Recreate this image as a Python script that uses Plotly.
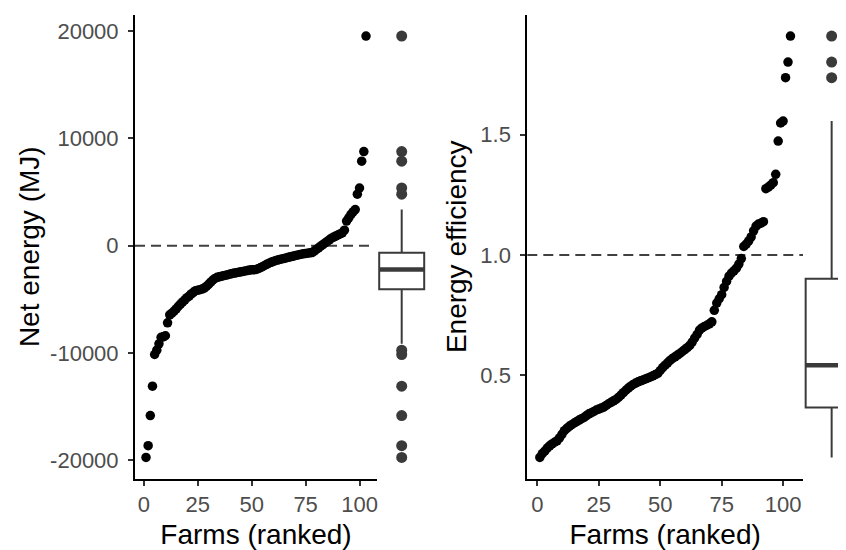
import numpy as np
import plotly.graph_objects as go

# ---------------- data ----------------
net_energy = [
    -19750, -18650, -15850, -13100, -10150, -9750, -9150, -8550, -8500, -8400,
    -7200, -6450, -6300, -6100, -5900, -5650, -5450, -5250, -5050, -4850,
    -4700, -4500, -4350, -4200, -4150, -4100, -4050, -3950, -3800, -3600,
    -3400, -3200, -3050, -2950, -2900, -2850, -2800, -2750, -2700, -2650,
    -2600, -2550, -2520, -2480, -2440, -2400, -2360, -2320, -2280, -2250,
    -2235, -2220, -2150, -2060, -1960, -1850, -1740, -1640, -1550, -1470,
    -1400, -1340, -1290, -1240, -1190, -1140, -1090, -1040, -990, -940,
    -890, -845, -800, -760, -725, -695, -670, -640, -500, -350,
    -200, -50, 100, 250, 400, 550, 700, 800, 900, 1000,
    1100, 1200, 1450, 2300, 2600, 2900, 3150, 3370, 4800, 5380,
    7880, 8780, 19550,
]

energy_eff = [
    0.159, 0.175, 0.185, 0.198, 0.207, 0.215, 0.222, 0.228, 0.240, 0.255,
    0.270, 0.280, 0.288, 0.295, 0.302, 0.308, 0.314, 0.320, 0.325, 0.333,
    0.340, 0.345, 0.350, 0.356, 0.360, 0.364, 0.368, 0.375, 0.382, 0.388,
    0.394, 0.400, 0.408, 0.418, 0.428, 0.438, 0.447, 0.455, 0.462, 0.468,
    0.473, 0.477, 0.481, 0.485, 0.489, 0.493, 0.498, 0.503, 0.508, 0.520,
    0.532, 0.542, 0.552, 0.562, 0.570, 0.577, 0.584, 0.591, 0.599, 0.607,
    0.615, 0.624, 0.638, 0.655, 0.670, 0.688, 0.697, 0.703, 0.708, 0.714,
    0.722, 0.770, 0.800, 0.818, 0.835, 0.865, 0.890, 0.912, 0.925, 0.934,
    0.945, 0.962, 0.985, 1.035, 1.045, 1.058, 1.075, 1.100, 1.120, 1.128,
    1.132, 1.138, 1.275, 1.282, 1.290, 1.300, 1.335, 1.473, 1.548, 1.556,
    1.736, 1.801, 1.909,
]

ranks = list(range(1, len(net_energy) + 1))
x_ticks = [0, 25, 50, 75, 100]
net_ticks = [-20000, -10000, 0, 10000, 20000]
eff_ticks = [0.5, 1.0, 1.5]
net_tick_text = ["-20000", "-10000", "0", "10000", "20000"]
eff_tick_text = ["0.5", "1.0", "1.5"]
ref_net = 0
ref_eff = 1.0
x_title = "Farms (ranked)"
net_title = "Net energy (MJ)"
eff_title = "Energy efficiency"

# ---------------- styling ----------------
OFF = 8                      # default page body margin
W, H = 846 - OFF, 550 - OFF  # figure size so it ends at the window edge
FONT = "Liberation Sans, Arial, Helvetica, sans-serif"
TICK_COL = "#4D4D4D"
BOX_COL = "#3a3a3a"
DASH_COL = "#404040"
TICK_SIZE = 22
TITLE_SIZE = 28
DOT = 9.5


def fx(a, b):
    return [max(0, (a - OFF) / W), min(1, (b - OFF) / W)]


def fy(top, bottom):
    return [1 - (bottom - OFF) / H, 1 - (top - OFF) / H]


def expand(vals, frac=0.05):
    lo, hi = min(vals), max(vals)
    pad = (hi - lo) * frac
    return [lo - pad, hi + pad]


y_dom = fy(15, 478.5)

fig = go.Figure()

# Left: ranked scatter
fig.add_trace(go.Scatter(
    x=ranks, y=net_energy, mode="markers",
    marker=dict(color="black", size=DOT, line=dict(width=0)),
    xaxis="x", yaxis="y", showlegend=False, hoverinfo="x+y"))

# Left: boxplot
fig.add_trace(go.Box(
    y=net_energy, x=[0] * len(net_energy), xaxis="x2", yaxis="y",
    boxpoints="outliers", pointpos=0, jitter=0, width=0.75,
    quartilemethod="inclusive", whiskerwidth=0,
    fillcolor="white", line=dict(color=BOX_COL, width=2),
    marker=dict(color=BOX_COL, size=11, line=dict(width=0)),
    showlegend=False))
med_l = float(np.median(net_energy))
fig.add_trace(go.Scatter(
    x=[-0.375, 0.375], y=[med_l, med_l], mode="lines",
    line=dict(color=BOX_COL, width=4.5), xaxis="x2", yaxis="y",
    showlegend=False, hoverinfo="skip"))

# Right: ranked scatter
fig.add_trace(go.Scatter(
    x=ranks, y=energy_eff, mode="markers",
    marker=dict(color="black", size=DOT, line=dict(width=0)),
    xaxis="x3", yaxis="y2", showlegend=False, hoverinfo="x+y"))

# Right: boxplot
fig.add_trace(go.Box(
    y=energy_eff, x=[0] * len(energy_eff), xaxis="x4", yaxis="y2",
    boxpoints="outliers", pointpos=0, jitter=0, width=0.75,
    quartilemethod="inclusive", whiskerwidth=0,
    fillcolor="white", line=dict(color=BOX_COL, width=2),
    marker=dict(color=BOX_COL, size=11, line=dict(width=0)),
    showlegend=False))
med_r = float(np.median(energy_eff))
fig.add_trace(go.Scatter(
    x=[-0.375, 0.375], y=[med_r, med_r], mode="lines",
    line=dict(color=BOX_COL, width=4.5), xaxis="x4", yaxis="y2",
    showlegend=False, hoverinfo="skip"))

# reference dashed lines
fig.add_shape(type="line", xref="x domain", yref="y", x0=0, x1=0.99,
              y0=ref_net, y1=ref_net, layer="below",
              line=dict(color=DASH_COL, width=2, dash="10px,6px"))
fig.add_shape(type="line", xref="x3 domain", yref="y2", x0=0, x1=1,
              y0=ref_eff, y1=ref_eff, layer="below",
              line=dict(color=DASH_COL, width=2, dash="10px,6px"))

common_x = dict(
    showline=True, linecolor="black", linewidth=2, mirror=False,
    ticks="outside", ticklen=5, tickwidth=1.5, tickcolor="#333333",
    showgrid=False, zeroline=False, tickmode="array",
    tickvals=x_ticks, ticktext=[str(t) for t in x_ticks],
    tickfont=dict(family=FONT, size=TICK_SIZE, color=TICK_COL),
    title=dict(text=x_title,
               font=dict(family=FONT, size=TITLE_SIZE, color="black"),
               standoff=8),
    range=expand(ranks), automargin=False,
)
common_y = dict(
    showline=True, linecolor="black", linewidth=2,
    ticks="outside", ticklen=5, tickwidth=1.5, tickcolor="#333333",
    showgrid=False, zeroline=False, tickmode="array",
    tickfont=dict(family=FONT, size=TICK_SIZE, color=TICK_COL),
    ticklabelstandoff=5,
    domain=y_dom, automargin=False,
)

fig.update_layout(
    width=W, height=H,
    margin=dict(l=0, r=0, t=0, b=0),
    paper_bgcolor="white", plot_bgcolor="rgba(0,0,0,0)",
    font=dict(family=FONT),
    xaxis=dict(common_x, domain=fx(135, 377), anchor="y"),
    yaxis=dict(common_y, anchor="x", range=expand(net_energy),
               tickvals=net_ticks, ticktext=net_tick_text,
               title=dict(text=net_title,
                          font=dict(family=FONT, size=TITLE_SIZE,
                                    color="black"),
                          standoff=2)),
    xaxis2=dict(domain=fx(371.7, 431.7), anchor="y", range=[-0.5, 0.5],
                visible=False, fixedrange=True),
    xaxis3=dict(common_x, domain=fx(527.3, 803), anchor="y2"),
    yaxis2=dict(common_y, anchor="x3", range=expand(energy_eff),
                tickvals=eff_ticks, ticktext=eff_tick_text,
                title=dict(text=eff_title,
                           font=dict(family=FONT, size=TITLE_SIZE,
                                     color="black"),
                           standoff=6)),
    xaxis4=dict(domain=fx(797, 846), anchor="y2",
                range=[-0.5, -0.5 + 49 / 69.3], visible=False,
                fixedrange=True),
)

fig.write_html("out.html")
